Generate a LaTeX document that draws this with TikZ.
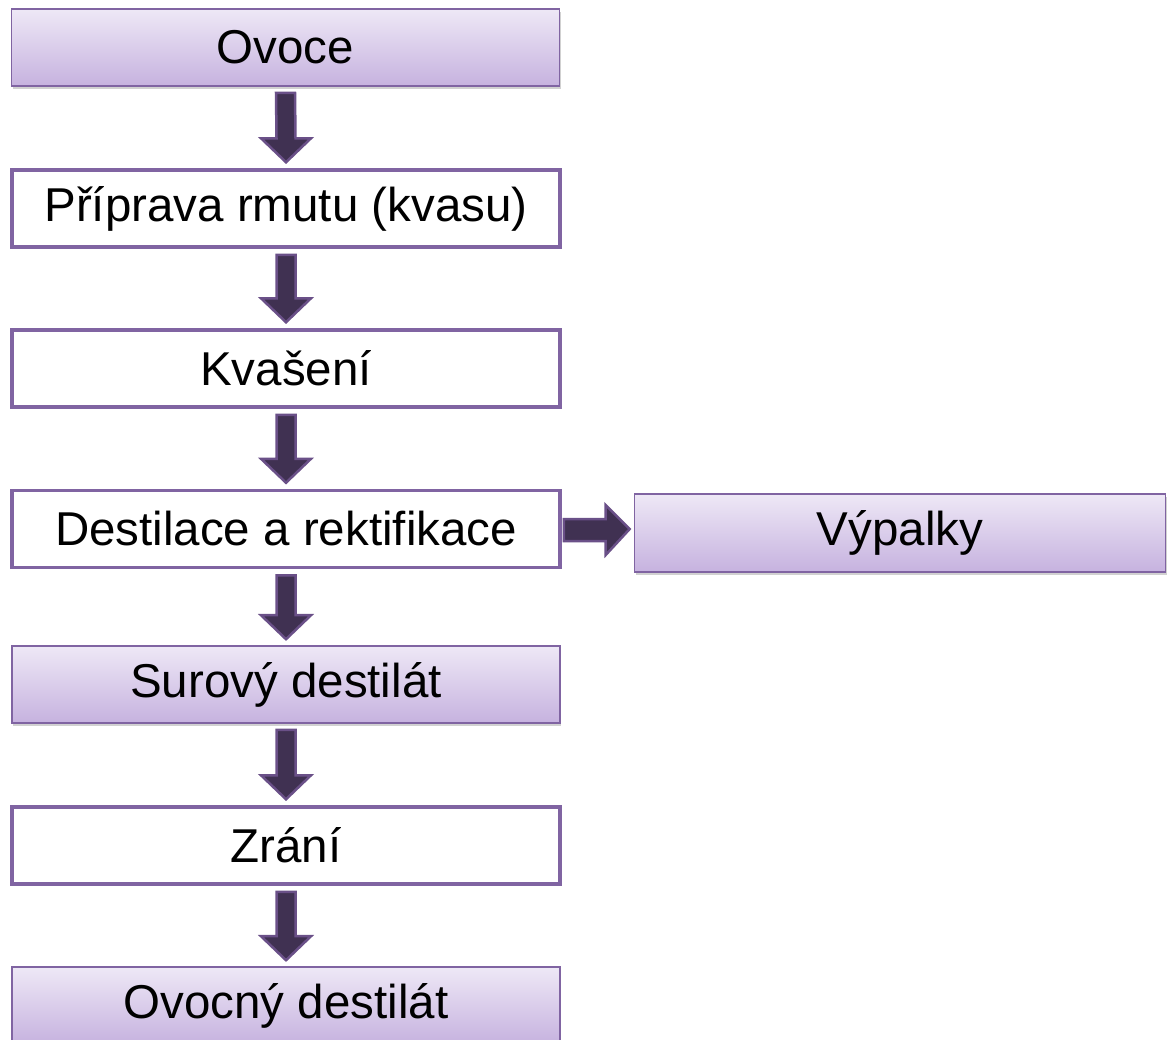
\documentclass[tikz,border=0pt]{standalone}
\usepackage{fontspec}
\setmainfont{Liberation Sans}
\usetikzlibrary{calc,shadows}
\definecolor{boxline}{HTML}{8064A2}
\definecolor{gradtop}{HTML}{EEE8F6}
\definecolor{gradbot}{HTML}{C6B2DF}
\definecolor{arrowfill}{HTML}{403152}
\definecolor{arrowline}{HTML}{6A5088}
\tikzset{
  stage/.style={rectangle, minimum width=548pt, minimum height=77pt, inner sep=0pt,
    font=\fontsize{47.5}{52}\selectfont, text=black},
  plainbox/.style={stage, draw=boxline, line width=3.5pt, fill=white},
  shadedbox/.style={stage, draw=boxline, line width=1.6pt,
    top color=gradtop, bottom color=gradbot,
    drop shadow={shadow xshift=1pt, shadow yshift=-3pt, opacity=0.18, fill=black}},
  flowarrow/.style={fill=arrowfill, draw=arrowline, line width=2.5pt, line join=miter}
}
% thick block arrow straight down from the bottom of #1 to the top of #2
\newcommand\downflow[2]{%
  \path[flowarrow] ($(#1.south)+(-9.5,6)$) -- ($(#2.north)+(-9.5,-30)$) -- ($(#2.north)+(-25,-30)$)
    -- ($(#2.north)+(0,-6)$) -- ($(#2.north)+(25,-30)$) -- ($(#2.north)+(9.5,-30)$)
    -- ($(#1.south)+(9.5,6)$) -- cycle;}
\begin{document}
\begin{tikzpicture}[x=1pt,y=-1pt]
\useasboundingbox (0,0) rectangle (1167,1039);
\node[shadedbox] (ovoce)   at (285.5,47.5) {Ovoce};
\node[plainbox]  (priprava) at (286,208.5) {Příprava rmutu (kvasu)};
\node[plainbox]  (kvaseni) at (286,368.5) {Kvašení};
\node[plainbox]  (destil)  at (286,529) {Destilace a rektifikace};
\node[shadedbox, minimum width=531pt, minimum height=78pt] (vypalky) at (900,533) {Výpalky};
\node[shadedbox] (surovy)  at (286,684.5) {Surový destilát};
\node[plainbox]  (zrani)   at (286,845.5) {Zrání};
\node[shadedbox] (ovocny)  at (286,1005.5) {Ovocný destilát};

\downflow{ovoce}{priprava}
\downflow{priprava}{kvaseni}
\downflow{kvaseni}{destil}
\downflow{destil}{surovy}
\downflow{surovy}{zrani}
\downflow{zrani}{ovocny}

% side branch to the residue box
\path[flowarrow] ($(destil.east)+(2,-10)$) -- ($(vypalky.west)+(-28,-14)$) -- ($(vypalky.west)+(-28,-28)$)
  -- ($(vypalky.west)+(-4,-4)$) -- ($(vypalky.west)+(-28,22)$) -- ($(vypalky.west)+(-28,8)$)
  -- ($(destil.east)+(2,12)$) -- cycle;
\end{tikzpicture}
\end{document}
